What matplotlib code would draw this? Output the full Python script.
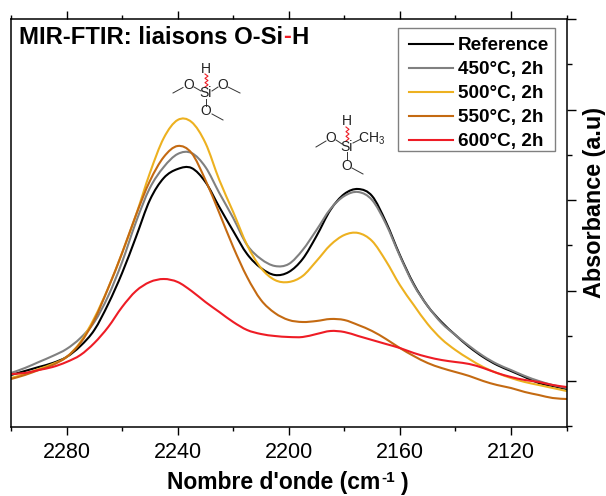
import matplotlib
matplotlib.use("Agg")
import matplotlib.pyplot as plt
from matplotlib.lines import Line2D
from matplotlib.patches import PathPatch, Rectangle
from matplotlib.path import Path
from matplotlib.ticker import MultipleLocator, FixedLocator

plt.rcParams['font.family'] = ['Liberation Sans', 'DejaVu Sans']
plt.rcParams['mathtext.fontset'] = 'custom'
plt.rcParams['mathtext.rm'] = 'Liberation Sans'
plt.rcParams['mathtext.bf'] = 'Liberation Sans:bold'

# nombre d'onde, un point tous les 5 cm-1
wavenumber = [2300, 2295, 2290, 2285, 2280, 2275, 2270, 2265, 2260, 2255, 2250,
              2245, 2240, 2235, 2230, 2225, 2220, 2215, 2210, 2205, 2200,
              2195, 2190, 2185, 2180, 2175, 2170, 2165, 2160, 2155, 2150,
              2145, 2140, 2135, 2130, 2125, 2120, 2115, 2110, 2105, 2100]

# absorbance en unites arbitraires
reference = [6, 10, 14, 18, 24, 35, 51, 77, 108, 144, 181, 203, 212, 213, 199, 174, 150, 127, 113, 106,
             109, 122, 145, 171, 187, 192, 185, 159, 126, 97, 75, 59, 46, 34, 24, 16, 10, 4, -2, -5, -8]
t450 = [8, 13, 19, 25, 32, 43, 59, 85, 119, 159, 193, 214, 227, 228, 214, 188, 163, 136, 122, 115,
        117, 131, 151, 172, 185, 189, 181, 157, 125, 96, 75, 58, 46, 35, 25, 17, 11, 5, 0, -4, -7]
t500 = [3, 7, 12, 17, 24, 39, 63, 93, 128, 166, 208, 243, 261, 259, 238, 201, 169, 136, 113, 101,
        99, 105, 120, 136, 146, 148, 140, 120, 96, 76, 57, 42, 31, 22, 14, 8, 3, -1, -4, -7, -10]
t550 = [2, 6, 11, 16, 24, 38, 61, 93, 128, 166, 200, 224, 235, 228, 201, 168, 134, 104, 81, 68,
        61, 59, 60, 62, 61, 56, 50, 42, 33, 25, 18, 13, 9, 5, 0, -4, -7, -11, -14, -17, -18]
t600 = [7, 8, 11, 14, 19, 26, 38, 54, 74, 90, 99, 102, 99, 90, 79, 69, 59, 51, 47, 45,
        44, 44, 47, 50, 49, 45, 41, 37, 33, 28, 24, 21, 19, 17, 13, 8, 4, 1, -1, -4, -6]

labels = ["Reference", "450°C, 2h", "500°C, 2h", "550°C, 2h", "600°C, 2h"]
colors = ["#000000", "#808080", "#EDB120", "#C46A12", "#EE1C25"]
series = [reference, t450, t500, t550, t600]

W, H = 606, 496
fig = plt.figure(figsize=(W / 100, H / 100), dpi=100)
ax = fig.add_axes([11 / W, 1 - 426.5 / H, 555.5 / W, 407.5 / H])


def smooth_path(xs, ys):
    # courbe de Bezier qui passe par les points lus
    verts = [(xs[0], ys[0])]
    codes = [Path.MOVETO]
    n = len(xs)
    for i in range(n - 1):
        p0 = max(i - 1, 0)
        p3 = min(i + 2, n - 1)
        verts.append((xs[i] + (xs[i + 1] - xs[p0]) / 6, ys[i] + (ys[i + 1] - ys[p0]) / 6))
        verts.append((xs[i + 1] - (xs[p3] - xs[i]) / 6, ys[i + 1] - (ys[p3] - ys[i]) / 6))
        verts.append((xs[i + 1], ys[i + 1]))
        codes += [Path.CURVE4, Path.CURVE4, Path.CURVE4]
    return Path(verts, codes)


handles = []
for s, c, lab in zip(series, colors, labels):
    ax.add_patch(PathPatch(smooth_path(wavenumber, s), fill=False, edgecolor=c, lw=1.5, capstyle='round'))
    handles.append(Line2D([], [], color=c, lw=1.5, label=lab))

ax.set_xlim(2300, 2100)
ax.set_ylim(-45.5, 362)

# axes: graduations dehors, rien a gauche
for sp in ax.spines.values():
    sp.set_linewidth(1.1)
ax.xaxis.set_major_locator(FixedLocator([2280, 2240, 2200, 2160, 2120]))
ax.xaxis.set_minor_locator(MultipleLocator(20))
ax.yaxis.set_major_locator(FixedLocator([0, 90.5, 181, 271.5, 362]))
ax.yaxis.set_minor_locator(FixedLocator([-45.25, 45.25, 135.75, 226.25, 316.75]))
ax.tick_params(axis='x', which='major', direction='out', top=True, length=6, width=1, labelsize=15.5, pad=5)
ax.tick_params(axis='x', which='minor', direction='out', top=True, length=3, width=1)
ax.tick_params(axis='y', which='major', direction='out', left=False, right=True, labelleft=False, length=6.5, width=1)
ax.tick_params(axis='y', which='minor', direction='out', left=False, right=True, length=3.5, width=1)


def px(x, y):
    return x / W, 1 - y / H


# cadre de la legende dessine a part, le texte n'est pas centre dedans
fig.add_artist(Rectangle(px(398, 151), 157 / W, 123 / H, transform=fig.transFigure, fill=True,
                         facecolor='white', edgecolor='#808080', lw=1, zorder=3))
leg = ax.legend(handles=handles, loc='upper left', bbox_to_anchor=px(409, 37), bbox_transform=fig.transFigure,
                fontsize=13.6, frameon=False, borderaxespad=0, borderpad=0, labelspacing=0.36,
                handlelength=2.35, handletextpad=0.22)
leg.set_zorder(4)
leg.remove()
fig.add_artist(leg)
for t in leg.get_texts():
    t.set_fontweight('bold')

# labels des axes
fx, fy = px(595, 203)
fig.text(fx, fy, "Absorbance (a.u)", fontsize=16.8, fontweight='bold', rotation=90, ha='center', va='center')

fx, fy = px(167, 489)
x1 = fig.text(fx, fy, "Nombre d'onde (cm", fontsize=16.5, fontweight='bold', va='baseline')
x2 = ax.annotate("-1", xy=(1, 0), xycoords=x1, xytext=(1, 9), textcoords='offset points',
                 fontsize=11, fontweight='bold', va='baseline', annotation_clip=False)
ax.annotate(")", xy=(1, 0), xycoords=x1, xytext=(15, 3.2), textcoords='offset points',
            fontsize=16.5, fontweight='bold', va='baseline', annotation_clip=False)

# titre, le tiret en rouge
x0, y0 = px(19, 37)
t1 = fig.text(x0, y0, "MIR-FTIR: liaisons O-Si", fontsize=17.2, fontweight='bold', va='center')
t2 = ax.annotate("-", xy=(1, 0), xycoords=t1, va='bottom', fontsize=17.2, fontweight='bold', color='#EE1C25')
ax.annotate("H", xy=(1, 0), xycoords=t2, va='bottom', fontsize=17.2, fontweight='bold')


# motifs moleculaires
def mol_text(x, y, s, fs=10):
    fx, fy = px(x, y)
    fig.text(fx, fy, s, fontsize=fs, ha='center', va='center', color='#222222')


def bond(x1, y1, x2, y2, color='#333333'):
    a, b = px(x1, y1), px(x2, y2)
    fig.add_artist(Line2D([a[0], b[0]], [a[1], b[1]], color=color, lw=0.7, transform=fig.transFigure))


def wavy(x, y1, y2):
    step = (y2 - y1) / 6
    xs, ys = [], []
    for i in range(7):
        a = px(x + (1.5 if i % 2 else -1.5), y1 + i * step)
        xs.append(a[0])
        ys.append(a[1])
    fig.add_artist(Line2D(xs, ys, color='#EE1C25', lw=0.8, transform=fig.transFigure))


mol_text(206, 69, "H")
wavy(206.5, 74, 87)
mol_text(206, 93, "Si")
mol_text(189, 85, "O")
mol_text(223, 85, "O")
mol_text(206, 111, "O")
bond(173, 93, 183, 87.5)
bond(194, 87, 201, 91)
bond(212, 91, 218, 87)
bond(228, 87, 240, 93)
bond(206, 99, 206, 106)
bond(212, 114, 223, 120)

mol_text(347, 121, "H")
wavy(347.5, 127, 141)
mol_text(347, 147, "Si")
mol_text(331, 138, "O")
mol_text(372, 139, r"CH$_3$")
mol_text(347, 166, "O")
bond(316, 147, 326, 141)
bond(336, 140, 342, 144)
bond(353, 143, 361, 139)
bond(347, 152, 347, 160)
bond(352, 168, 363, 174)

fig.savefig("out.png", dpi=100)
